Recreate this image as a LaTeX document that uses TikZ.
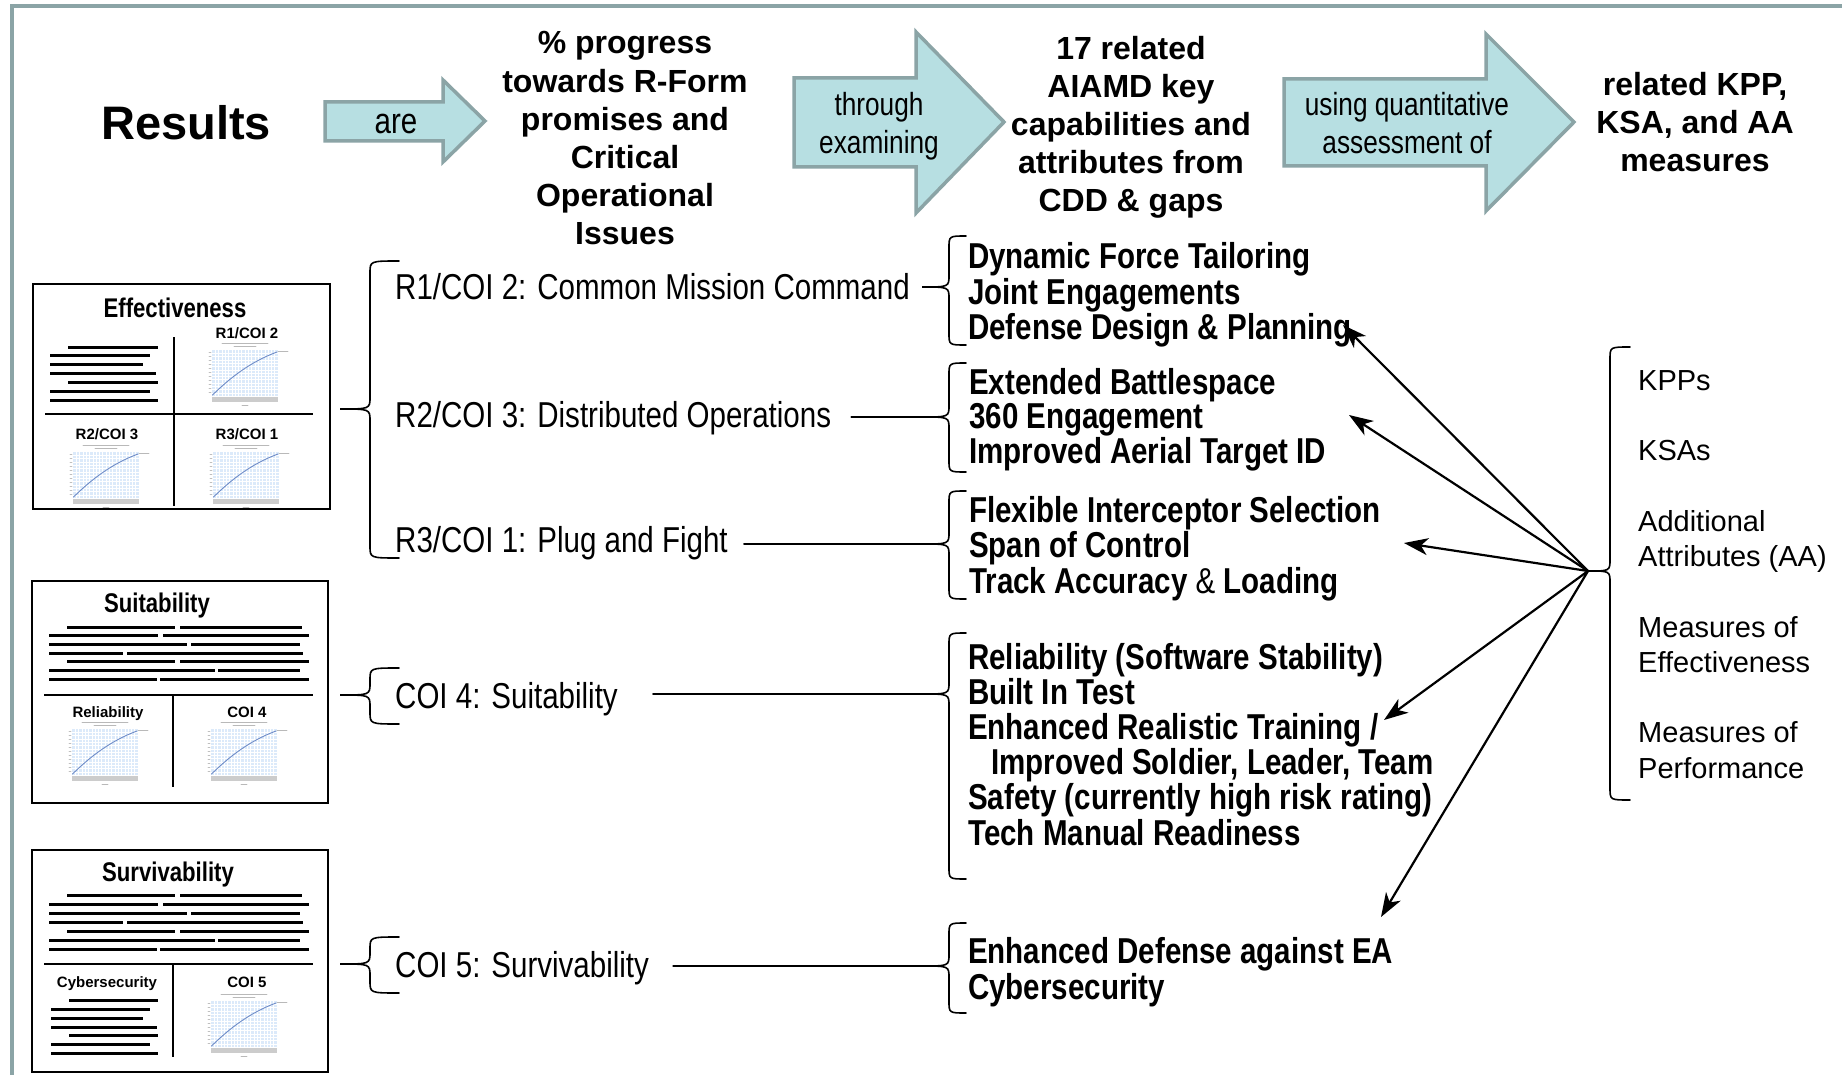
\documentclass[tikz,border=0pt]{standalone}
\usepackage{fontspec}
\setmainfont{Liberation Sans}
\newfontfamily\narrowfont[FakeStretch=0.82]{Liberation Sans}
\usetikzlibrary{arrows.meta}

% curly brace opening to the right: name, tip x, spine x, end x, top, tip y, bottom
\newcommand{\curly}[7]{%
  \coordinate (#1) at (#2,#6);
  \draw[bracepath] (#4,#5) .. controls (#3,#5) .. (#3,#5+12) -- (#3,#6-12)
    .. controls (#3,#6) .. (#1) .. controls (#3,#6) .. (#3,#6+12)
    -- (#3,#7-12) .. controls (#3,#7) .. (#4,#7);}

% small chart thumbnail, top left corner of the plot area
\newcommand{\minichart}[2]{%
  \begin{scope}[shift={(#1,#2)}]
    \draw[chartink] (10,-7) -- (56,-7) (22,-3.5) -- (44,-3.5);
    \fill[chartfill] (0,0) rectangle (66,46);
    \foreach \gx in {3.3,6.6,...,63} \draw[white,line width=0.5pt] (\gx,0) -- (\gx,46);
    \foreach \gy in {3.3,6.6,...,44} \draw[white,line width=0.5pt] (0,\gy) -- (66,\gy);
    \draw[chartcurve] (0.5,45) .. controls (18,28) and (38,12) .. (65,2);
    \fill[gray!40] (0,47) rectangle (66,52);
    \draw[chartink] (30,55.5) -- (36,55.5) (66,1) -- (76,1);
    \foreach \gy in {2,6,...,44} \draw[gray!50,line width=0.6pt] (-3,\gy) -- (-1,\gy);
  \end{scope}}

\begin{document}
\begin{tikzpicture}
[x=1pt,y=-1pt,line cap=round,
% Styles
frame/.style={draw=framecolor,line width=4pt,line cap=butt},
flow arrow/.style={draw=framecolor,fill=arrowfill,line width=3.5pt,line join=miter},
flowtext/.style={font=\narrowfont\fontsize{32}{38}\selectfont,anchor=base,inner sep=0},
heading/.style={font=\bfseries\fontsize{32}{38}\selectfont,anchor=base,inner sep=0},
coi/.style={font=\narrowfont\fontsize{36}{40}\selectfont,anchor=base west,inner sep=0},
item/.style={font=\narrowfont\bfseries\fontsize{36}{40}\selectfont,anchor=base west,inner sep=0},
measure/.style={font=\fontsize{29}{35}\selectfont,anchor=base west,inner sep=0},
thumb/.style={draw,line width=1.6pt},
divider/.style={line width=1.3pt,line cap=butt},
boxtitle/.style={font=\narrowfont\bfseries\fontsize{27}{30}\selectfont,anchor=base,inner sep=0},
chartname/.style={font=\bfseries\fontsize{15}{17}\selectfont,anchor=base,inner sep=0},
bar/.style={line width=3pt,line cap=butt},
chartink/.style={gray!55,line width=0.8pt},
chartcurve/.style={draw=chartblue,line width=0.9pt},
bracepath/.style={line width=1.6pt},
feed/.style={line width=1.6pt},
pointer/.style={line width=2.2pt,-{Stealth[length=24pt,width=17pt,inset=7pt]}}]
% Colors
\definecolor{framecolor}{RGB}{139,164,166}
\definecolor{arrowfill}{RGB}{183,223,226}
\definecolor{chartfill}{RGB}{220,234,250}
\definecolor{chartblue}{RGB}{110,140,200}
% The graphic
\useasboundingbox (0,0) rectangle (1842,1075);
\fill[white] (0,0) rectangle (1842,1075);
\draw[frame] (12,1075) -- (12,6) -- (1842,6);

% top row
\node[heading,font=\bfseries\fontsize{47}{50}\selectfont] (results) at (186,140) {Results};
\draw[flow arrow] (325,102) -- (443,102) -- (443,80) -- (485,121) -- (443,162) -- (443,141) -- (325,141) -- cycle;
\node[flowtext,font=\narrowfont\fontsize{36}{38}\selectfont] (are) at (396,134) {are};
\foreach \t [count=\i] in {\% progress, towards R-Form, promises and, Critical, Operational, Issues}
\node[heading] (prog\i) at (625,{54+38.2*(\i-1)}) {\t};
\draw[flow arrow] (794,78) -- (916,78) -- (916,32) -- (1004,122) -- (916,213) -- (916,167) -- (794,167) -- cycle;
\node[flowtext] (through) at (879,116) {through};
\node[flowtext] (examining) at (879,154) {examining};
\foreach \t [count=\i] in {17 related, AIAMD key, capabilities and, attributes from, CDD \& gaps}
\node[heading] (cap\i) at (1131,{60+38*(\i-1)}) {\t};
\draw[flow arrow] (1284,79) -- (1486,79) -- (1486,34) -- (1574,122) -- (1486,211) -- (1486,166) -- (1284,166) -- cycle;
\node[flowtext] (using) at (1407,116) {using quantitative};
\node[flowtext] (assess) at (1407,154) {assessment of};
\foreach \t [count=\i] in {{related KPP,}, {KSA, and AA}, measures}
\node[heading] (meas\i) at (1695,{96+38*(\i-1)}) {\t};

% thumbnails
\draw[thumb] (33,284) rectangle (330,509);
\draw[divider] (45,414) -- (313,414) (174,337) -- (174,506);
\node[boxtitle] (efftitle) at (175,317) {Effectiveness};
\foreach \xa/\xb/\y in {68/158/347, 50/150/355, 50/143/364, 50/156/373, 68/158/382, 50/150/391, 50/158/400}
\draw[bar] (\xa,\y) -- (\xb,\y);
\node[chartname] (chr1) at (247,338) {R1/COI 2};
\node[chartname] (chr2) at (107,439) {R2/COI 3};
\node[chartname] (chr3) at (247,439) {R3/COI 1};
\minichart{212}{350}
\minichart{73}{452}
\minichart{213}{452}

\draw[thumb] (32,581) rectangle (328,803);
\draw[divider] (44,695) -- (313,695) (173,695) -- (173,787);
\node[boxtitle] (suittitle) at (157,612) {Suitability};
\foreach \xa/\xb/\xc/\xd [count=\i, evaluate=\i as \y using 627+8.7*(\i-1)] in
{67/175/180/302, 49/158/163/309, 49/187/191/300, 49/123/127/303, 67/175/180/309, 49/215/218/300, 49/157/160/309}
\draw[bar] (\xa,\y) -- (\xb,\y) (\xc,\y) -- (\xd,\y);
\node[chartname] (chrel) at (108,717) {Reliability};
\node[chartname] (chc4) at (247,717) {COI 4};
\minichart{72}{729}
\minichart{211}{729}

\draw[thumb] (32,850) rectangle (328,1072);
\draw[divider] (44,964) -- (313,964) (173,964) -- (173,1057);
\node[boxtitle] (survtitle) at (168,881) {Survivability};
\foreach \xa/\xb/\xc/\xd [count=\i, evaluate=\i as \y using 895+9*(\i-1)] in
{67/175/180/302, 49/158/163/309, 49/187/191/300, 49/123/127/303, 67/175/180/309, 49/215/218/300, 49/157/160/309}
\draw[bar] (\xa,\y) -- (\xb,\y) (\xc,\y) -- (\xd,\y);
\node[chartname] (chcyb) at (107,987) {Cybersecurity};
\node[chartname] (chc5) at (247,987) {COI 5};
\foreach \xa/\xb/\y in {69/158/1000, 51/150/1009, 51/143/1018, 51/157/1027, 69/158/1035, 51/150/1044, 51/158/1053}
\draw[bar] (\xa,\y) -- (\xb,\y);
\minichart{211}{1001}

% issues
\curly{eff}{340}{370}{399}{261}{409}{558}
\curly{suit}{340}{370}{399}{668}{695}{724}
\curly{surv}{340}{370}{399}{937}{964}{993}
\node[coi] (r1) at (395,300) {R1/COI 2: Common Mission Command};
\node[coi] (r2) at (395,427) {R2/COI 3: Distributed Operations};
\node[coi] (r3) at (395,552) {R3/COI 1: Plug and Fight};
\node[coi] (c4) at (395,708) {COI 4: Suitability};
\node[coi] (c5) at (395,977) {COI 5: Survivability};

% capabilities
\curly{t1}{922}{949}{966}{236}{287}{345}
\curly{t2}{922}{949}{966}{363}{417}{472}
\curly{t3}{922}{949}{966}{491}{544}{599}
\curly{t4}{922}{949}{966}{633}{694}{879}
\curly{t5}{922}{949}{966}{923}{966}{1013}
\draw[feed] ([xshift=20pt]r2.east |- t2) -- (t2);
\draw[feed] ([xshift=16pt]r3.east |- t3) -- (t3);
\draw[feed] ([xshift=35pt]c4.east |- t4) -- (t4);
\draw[feed] ([xshift=24pt]c5.east |- t5) -- (t5);
\foreach \t [count=\i] in {Dynamic Force Tailoring, Joint Engagements, Defense Design \& Planning}
\node[item] (ka\i) at (968,{269+35.3*(\i-1)}) {\t};
\foreach \t [count=\i] in {Extended Battlespace, 360 Engagement, Improved Aerial Target ID}
\node[item] (kb\i) at (969,{394+34.7*(\i-1)}) {\t};
\foreach \t [count=\i] in {Flexible Interceptor Selection, Span of Control, {Track Accuracy {\mdseries\&} Loading}}
\node[item] (kc\i) at (969,{522+35.5*(\i-1)}) {\t};
\foreach \t [count=\i] in {Reliability (Software Stability), Built In Test, Enhanced Realistic Training /,
{\hspace{23pt}Improved Soldier, Leader, Team}, Safety (currently high risk rating), Tech Manual Readiness}
\node[item] (kd\i) at (968,{669+35.2*(\i-1)}) {\t};
\foreach \t [count=\i] in {Enhanced Defense against EA, Cybersecurity}
\node[item] (ke\i) at (968,{963+36*(\i-1)}) {\t};

% measures
\curly{kpp}{1588}{1610}{1630}{347}{571}{800}
\foreach \y/\t in {390/KPPs, 460/KSAs, 531/Additional, 566/Attributes (AA), 637/Measures of,
672/Effectiveness, 742/Measures of, 778/Performance}
\node[measure] (m\y) at (1638,\y) {\t};
\coordinate (p1) at (1343,325);
\coordinate (p2) at (1349,415);
\coordinate (p3) at (1404,543);
\coordinate (p4) at (1384,720);
\coordinate (p5) at (1381,917);
\foreach \p in {p1,p2,p3,p4,p5}
\draw[pointer] (kpp) -- (\p);
\end{tikzpicture}
\end{document}
